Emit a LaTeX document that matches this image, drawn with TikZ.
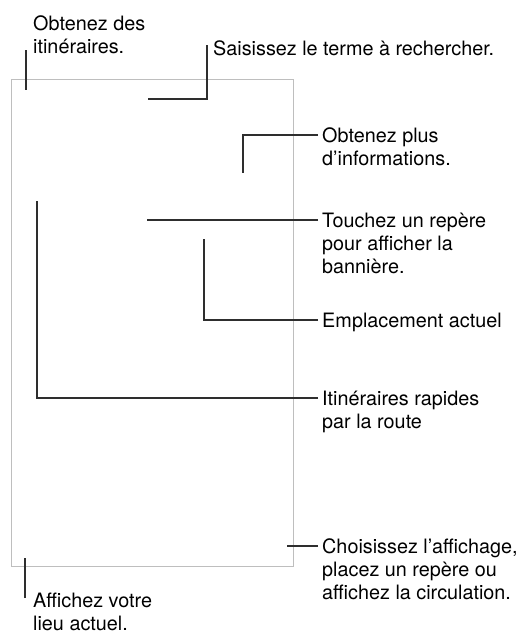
\documentclass[tikz,border=0pt]{standalone}
\usepackage{fontspec}
\setmainfont{TeX Gyre Heros}

\definecolor{framegray}{HTML}{BEBEBE}
\definecolor{leadgray}{HTML}{2E2E2E}
\newcommand{\lines}[1]{\begin{tabular}[t]{@{}l@{}}#1\end{tabular}}

\begin{document}
\begin{tikzpicture}[x=1pt, y=-1pt,
  lead/.style={draw=leadgray, line width=1.1pt},
  mapnote/.style={anchor=base west, inner sep=0pt, text=black,
    font=\fontsize{19.8}{23.4}\selectfont}]

  \useasboundingbox (0,0) rectangle (522,635);

  % -- Screen outline --
  \draw[framegray, line width=1pt] (11,79) rectangle (293,566);

  % -- Left notes --
  \node[mapnote] (tItin) at (33,30) {\lines{Obtenez des\\itinéraires.}};
  \node[mapnote] (tLoc) at (33,607) {\lines{Affichez votre\\lieu actuel.}};

  % -- Top note --
  \node[mapnote] (tSearch) at (213,55) {Saisissez le terme à rechercher.};

  % -- Right notes --
  \node[mapnote] (tInfo) at (322,142) {\lines{Obtenez plus\\d’informations.}};
  \node[mapnote] (tPin) at (322,227) {\lines{Touchez un repère\\pour afficher la\\bannière.}};
  \node[mapnote] (tHere) at (322,327) {Emplacement actuel};
  \node[mapnote] (tFast) at (322,405) {\lines{Itinéraires rapides\\par la route}};
  \node[mapnote] (tView) at (322,553) {\lines{Choisissez l’affichage,\\placez un repère ou\\affichez la circulation.}};

  % -- Free ends of the leaders --
  \coordinate (itinEnd) at (26,90);
  \coordinate (locEnd) at (25,558);
  \coordinate (searchEnd) at (148,99);
  \coordinate (infoEnd) at (243,173);
  \coordinate (pinEnd) at (147,220);
  \coordinate (hereEnd) at (204,239);
  \coordinate (fastEnd) at (37,201);
  \coordinate (viewEnd) at (287,546);

  % -- Leaders --
  \draw[lead] ([shift={(-7,20)}]tItin.base west) -- (itinEnd);
  \draw[lead] ([shift={(-8,-9)}]tLoc.base west) -- (locEnd);
  \draw[lead] ([shift={(-6,-10)}]tSearch.base west) |- (searchEnd);
  \draw[lead] ([shift={(-4,-7)}]tInfo.base west) -| (infoEnd);
  \draw[lead] ([shift={(-4,-7)}]tPin.base west) -- (pinEnd);
  \draw[lead] ([shift={(-4,-7)}]tHere.base west) -| (hereEnd);
  \draw[lead] ([shift={(-4,-7)}]tFast.base west) -| (fastEnd);
  \draw[lead] ([shift={(-4,-7)}]tView.base west) -- (viewEnd);

\end{tikzpicture}
\end{document}
